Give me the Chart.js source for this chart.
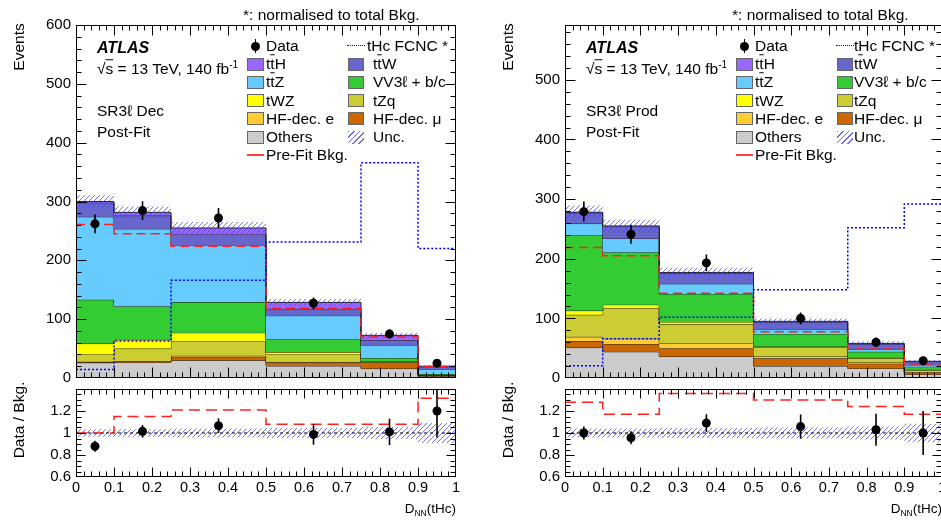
<!DOCTYPE html>
<html>
<head>
<meta charset="utf-8">
<script src="https://cdn.jsdelivr.net/npm/chart.js@4.4.0/dist/chart.umd.min.js"></script>
<style>
html, body { margin: 0; padding: 0; background: #fff; overflow: hidden; width: 941px; height: 522px; }
body { position: relative; font-family: "Liberation Sans", Arial, sans-serif; color: #000; }
canvas { position: absolute; }
.t { position: absolute; white-space: nowrap; font-size: 15.5px; line-height: 1; transform: translateY(-50%); }
.rot { position: absolute; white-space: nowrap; font-size: 15.5px; line-height: 1; transform: translate(-50%, -50%) rotate(-90deg); }
.sw { position: absolute; box-sizing: border-box; border: 1px solid #666; }
.ob { text-decoration: overline; }
sup { font-size: 10px; vertical-align: 6px; line-height: 0; }
sub { font-size: 8.5px; vertical-align: -3px; line-height: 0; }
</style>
</head>
<body>
<canvas id="decTop" width="470" height="392" style="left:0;top:0"></canvas>
<canvas id="decRatio" width="470" height="147" style="left:0;top:375px"></canvas>
<canvas id="prodTop" width="490" height="392" style="left:470px;top:0"></canvas>
<canvas id="prodRatio" width="490" height="147" style="left:470px;top:375px"></canvas>
<script>
// bins of the NN discriminant
const binEdges = [0, 0.1, 0.25, 0.5, 0.75, 0.9, 1];
const binCentres = [0.05, 0.175, 0.375, 0.625, 0.825, 0.95];

// axis labels
const eventTicks = [0, 100, 200, 300, 400, 500, 600];
const ratioTicks = [0.6, 0.8, 1, 1.2];
const xTicks = [0, 0.1, 0.2, 0.3, 0.4, 0.5, 0.6, 0.7, 0.8, 0.9, 1];

// background samples, bottom of the stack first
const sampleLabels = ['Others', 'HF-dec. μ', 'HF-dec. e', 'tZq', 'tWZ', 'VV3ℓ + b/c',
  't<span class="ob">t</span>Z', 't<span class="ob">t</span>W', 't<span class="ob">t</span>H'];
const sampleColours = ['#cccccc', '#cc6600', '#ffcc33', '#cccc33', '#ffff00', '#33cc33', '#66ccff', '#6666cc', '#9966ff'];

// SR3l Dec, post-fit yields
const decOthers = [26, 26.5, 30, 20.5, 16, 3];
const decHfMu = [1, 1.5, 6, 6, 10.5, 2];
const decHfE = [0.5, 0.5, 2, 0.5, 0, 0];
const decTZq = [12.5, 21.5, 25, 13, 1, 0.5];
const decTWZ = [18.5, 15, 14, 4, 0.5, 0];
const decVV = [74.5, 57, 52, 22, 6, 1.5];
const decTTZ = [141, 131.5, 97, 40, 22, 8];
const decTTW = [24, 22.5, 18, 11.5, 8, 3];
const decTTH = [2, 5.5, 11, 11, 8.5, 2];
const decData = [262, 284.5, 272, 127, 75, 25];
const decDataErr = [16, 16, 17, 10, 8, 5];
const decPreFit = [261, 245, 224, 118.5, 69.5, 19.5];
const decSignal = [14.5, 63, 166, 231, 366, 220];
const decRatio = [0.88, 1.015, 1.067, 0.987, 1.01, 1.2];
const decRatioErr = [0.05, 0.057, 0.067, 0.093, 0.12, 0.24];
const decPreFitRatio = [1.0, 1.15, 1.21, 1.08, 1.08, 1.315];
const decUnc = [0.035, 0.035, 0.04, 0.045, 0.055, 0.09];

// SR3l Prod, post-fit yields
const prodOthers = [51, 44, 36, 20, 16, 6];
const prodHfMu = [11, 13, 14, 13, 8, 3];
const prodHfE = [7, 9, 8, 3, 2, 1];
const prodTZq = [37, 51, 32, 16, 7, 3];
const prodTWZ = [7, 6, 4, 1, 1, 1];
const prodVV = [127, 88, 47, 21, 10, 5];
const prodTTZ = [19, 23, 17, 8, 4, 3];
const prodTTW = [18, 20, 18, 12, 9, 5.5];
const prodTTH = [1, 1, 1, 1, 1, 0.5];
const prodData = [279, 241, 193, 100, 60, 29];
const prodDataErr = [17, 16, 14, 10, 8, 5.5];
const prodPreFit = [219, 205, 142, 77.5, 48.5, 23.5];
const prodSignal = [20.5, 66, 102, 148, 252, 292];
const prodRatio = [1.0, 0.957, 1.09, 1.058, 1.03, 1.0];
const prodRatioErr = [0.06, 0.06, 0.08, 0.11, 0.145, 0.2];
const prodPreFitRatio = [1.28, 1.17, 1.36, 1.30, 1.24, 1.17];
const prodUnc = [0.04, 0.04, 0.045, 0.05, 0.06, 0.085];

const ratioRef = 1;
const FONT = '"Liberation Sans", Arial, sans-serif';
Chart.defaults.font.family = FONT;

// blue "/" hatching for the uncertainty band
const hatch = (() => {
  const c = document.createElement('canvas');
  c.width = 5; c.height = 5;
  const g = c.getContext('2d');
  g.strokeStyle = 'rgba(70,70,255,0.85)';
  g.lineWidth = 0.9;
  g.beginPath();
  g.moveTo(0, 5); g.lineTo(5, 0);
  g.moveTo(-1, 1); g.lineTo(1, -1);
  g.moveTo(4, 6); g.lineTo(6, 4);
  g.stroke();
  return g.createPattern(c, 'repeat');
})();

// histogram as step points: value i held from edge i to edge i+1
function steps(vals) {
  const pts = vals.map((v, i) => ({ x: binEdges[i], y: v }));
  pts.push({ x: binEdges[binEdges.length - 1], y: vals[vals.length - 1] });
  return pts;
}
function points(vals) {
  return vals.map((v, i) => ({ x: binCentres[i], y: v }));
}
function fixedTicks(list) {
  return s => { s.ticks = list.filter(v => v >= s.min - 1e-9 && v <= s.max + 1e-9).map(v => ({ value: v })); };
}

// ROOT style frame with inward ticks on all four sides
const frameTicks = {
  id: 'frameTicks',
  afterDraw(chart, args, o) {
    const { ctx, chartArea: a } = chart;
    const xs = chart.scales.x, ys = chart.scales.y;
    const L = Math.round(a.left) + 0.5, R = Math.round(a.right) - 0.5;
    const T = Math.round(a.top) + 0.5, B = Math.round(a.bottom) - 0.5;
    ctx.save();
    ctx.strokeStyle = '#000';
    ctx.lineWidth = 1;
    ctx.strokeRect(L, T, R - L, B - T);
    ctx.beginPath();
    const nx = Math.round((xs.max - xs.min) / o.xMinor);
    for (let i = 1; i < nx; i++) {
      const px = Math.round(xs.getPixelForValue(xs.min + i * o.xMinor)) + 0.5;
      const len = i % o.xEvery === 0 ? o.majLen : o.minLen;
      ctx.moveTo(px, B); ctx.lineTo(px, B - len);
      ctx.moveTo(px, T); ctx.lineTo(px, T + len);
    }
    const ny = Math.floor((ys.max - ys.min) / o.yMinor + 1e-6);
    for (let i = 1; i <= ny; i++) {
      const v = ys.min + i * o.yMinor;
      if (v >= ys.max - 1e-9) continue;
      const py = Math.round(ys.getPixelForValue(v)) + 0.5;
      const len = i % o.yEvery === 0 ? o.majLen : o.minLen;
      ctx.moveTo(L, py); ctx.lineTo(L + len, py);
      ctx.moveTo(R, py); ctx.lineTo(R - len, py);
    }
    ctx.stroke();
    ctx.restore();
  }
};

// vertical error bars for datasets carrying an "errors" array
const errorBars = {
  id: 'errorBars',
  afterDatasetsDraw(chart) {
    const { ctx, chartArea: a } = chart;
    const xs = chart.scales.x, ys = chart.scales.y;
    chart.data.datasets.forEach(ds => {
      if (!ds.errors) return;
      ctx.save();
      ctx.beginPath();
      ctx.rect(a.left, a.top, a.width, a.height);
      ctx.clip();
      ctx.strokeStyle = '#000';
      ctx.lineWidth = 1.6;
      ctx.beginPath();
      ds.data.forEach((p, j) => {
        const x = xs.getPixelForValue(p.x);
        ctx.moveTo(x, ys.getPixelForValue(p.y - ds.errors[j]));
        ctx.lineTo(x, ys.getPixelForValue(p.y + ds.errors[j]));
      });
      ctx.stroke();
      ctx.restore();
    });
  }
};

function drawPanel(p) {
  // running sums for the stacked backgrounds
  const stack = [];
  let run = p.layers[0].map(() => 0);
  p.layers.forEach(l => { run = run.map((v, i) => v + l[i]); stack.push(run); });
  const total = stack[stack.length - 1];

  const sets = stack.map((vals, i) => ({
    data: steps(vals),
    stepped: true,
    fill: i === 0 ? 'origin' : '-1',
    backgroundColor: sampleColours[i],
    borderColor: '#222',
    borderWidth: 1,
    pointRadius: 0,
    order: 40 - i
  }));
  sets.push({
    data: steps(total.map((v, i) => v * (1 - p.unc[i]))),
    stepped: true, fill: false, borderWidth: 0, pointRadius: 0, order: 10
  });
  sets.push({
    data: steps(total.map((v, i) => v * (1 + p.unc[i]))),
    stepped: true, fill: '-1', backgroundColor: hatch, borderWidth: 0, pointRadius: 0, order: 9
  });
  sets.push({
    data: steps(p.preFit), stepped: true, fill: false,
    borderColor: '#ff2020', borderWidth: 1.5, borderDash: [9, 5], pointRadius: 0, order: 3
  });
  sets.push({
    data: steps(p.signal), stepped: true, fill: false,
    borderColor: '#0000ff', borderWidth: 1.5, borderDash: [2, 2], pointRadius: 0, order: 2
  });
  sets.push({
    data: points(p.data), errors: p.dataErr, showLine: false,
    pointRadius: 4.5, pointBackgroundColor: '#000', pointBorderWidth: 0, order: 1
  });

  new Chart(document.getElementById(p.topId), {
    type: 'line',
    data: { datasets: sets },
    plugins: [frameTicks, errorBars],
    options: {
      responsive: false,
      animation: false,
      layout: { padding: { top: 25, right: p.padRight, bottom: 9, left: 0 } },
      plugins: {
        legend: { display: false },
        tooltip: { enabled: false },
        frameTicks: { xMinor: 0.02, xEvery: 5, yMinor: 20, yEvery: 5, majLen: 10, minLen: 5 }
      },
      scales: {
        x: { type: 'linear', min: 0, max: 1, display: false },
        y: {
          min: 0, max: p.yMax,
          afterBuildTicks: fixedTicks(eventTicks),
          afterFit: s => { s.width = p.axisW; },
          grid: { display: false, drawTicks: false },
          border: { display: false },
          ticks: { padding: 5, color: '#000', font: { family: FONT, size: 15 }, callback: v => String(v) }
        }
      }
    }
  });

  new Chart(document.getElementById(p.ratioId), {
    type: 'line',
    data: {
      datasets: [
        { data: steps(p.unc.map(u => ratioRef - u)), stepped: true, fill: false, borderWidth: 0, pointRadius: 0, order: 10 },
        { data: steps(p.unc.map(u => ratioRef + u)), stepped: true, fill: '-1', backgroundColor: hatch, borderWidth: 0, pointRadius: 0, order: 9 },
        {
          data: [{ x: binEdges[0], y: ratioRef }, { x: binEdges[binEdges.length - 1], y: ratioRef }],
          borderColor: '#000', borderWidth: 1, borderDash: [3, 3], pointRadius: 0, fill: false, order: 5
        },
        {
          data: steps(p.preFitRatio), stepped: true, fill: false,
          borderColor: '#ff2020', borderWidth: 1.5, borderDash: [11, 6], pointRadius: 0, order: 3
        },
        {
          data: points(p.ratio), errors: p.ratioErr, showLine: false,
          pointRadius: 4.5, pointBackgroundColor: '#000', pointBorderWidth: 0, order: 1
        }
      ]
    },
    plugins: [frameTicks, errorBars],
    options: {
      responsive: false,
      animation: false,
      layout: { padding: { top: 8, right: p.padRight, bottom: 0, left: 0 } },
      plugins: {
        legend: { display: false },
        tooltip: { enabled: false },
        frameTicks: { xMinor: 0.02, xEvery: 5, yMinor: 0.05, yEvery: 4, majLen: 9, minLen: 5 }
      },
      scales: {
        x: {
          type: 'linear', min: 0, max: 1,
          afterBuildTicks: fixedTicks(xTicks),
          afterFit: s => { s.height = 45; },
          grid: { display: false, drawTicks: false },
          border: { display: false },
          ticks: { padding: 2, color: '#000', font: { family: FONT, size: 14.5 }, maxRotation: 0, autoSkip: false, callback: v => String(+v.toFixed(1)) }
        },
        y: {
          min: 0.6, max: 1.4,
          afterBuildTicks: fixedTicks(ratioTicks),
          afterFit: s => { s.width = p.axisW; },
          grid: { display: false, drawTicks: false },
          border: { display: false },
          ticks: { padding: 5, color: '#000', font: { family: FONT, size: 15 }, callback: v => String(+v.toFixed(1)) }
        }
      }
    }
  });
}

// HTML text and legend around each frame
function addText(html, x, y, cls, extra) {
  const d = document.createElement('div');
  d.className = cls || 't';
  d.innerHTML = html;
  d.style.left = x + 'px';
  d.style.top = y + 'px';
  if (extra) Object.assign(d.style, extra);
  document.body.appendChild(d);
  return d;
}
function addBox(x, y, w, h, style) {
  const d = document.createElement('div');
  d.className = 'sw';
  Object.assign(d.style, { left: x + 'px', top: y + 'px', width: w + 'px', height: h + 'px' }, style);
  document.body.appendChild(d);
}

function decorate(fl, fr, axisX, region, col2Text, fcncText) {
  addText('*: normalised to total Bkg.', fl + 167, 15);
  addText('ATLAS', fl + 21, 48, 't', { fontWeight: 'bold', fontStyle: 'italic', fontSize: '16px' });
  addText('√<span class="ob">s</span> = 13 TeV, 140 fb<sup>-1</sup>', fl + 21, 69);
  addText(region, fl + 21, 111);
  addText('Post-Fit', fl + 21, 132);
  addText('Events', axisX, 46.5, 'rot');
  addText('Data / Bkg.', axisX, 420, 'rot');
  addText('D<sub>NN</sub>(tHc)', fr, 509, 't', { fontSize: '13.5px', transform: 'translate(-100%, -50%)' });

  const row = i => 46 + 18.2 * i;
  // first column
  addBox(fl + 175, row(0) - 4.5, 9, 9, { border: 'none', background: '#000', borderRadius: '50%' });
  addBox(fl + 178.8, row(0) - 7, 1.5, 14, { border: 'none', background: '#000' });
  addText('Data', fl + 190, row(0));
  [8, 6, 4, 2, 0].forEach((k, i) => {
    addBox(fl + 171, row(i + 1) - 6.5, 17, 13, { background: sampleColours[k] });
    addText(sampleLabels[k], fl + 190, row(i + 1));
  });
  addBox(fl + 171, row(6) - 1, 17, 2, { border: 'none', background: '#ff4040' });
  addText('Pre-Fit Bkg.', fl + 190, row(6));
  // second column
  addBox(fl + 271, row(0) - 1, 18, 0, { border: 'none', borderTop: '1.5px dotted #0000ff' });
  addText('tHc FCNC *', fl + fcncText, row(0));
  [7, 5, 3, 1].forEach((k, i) => {
    addBox(fl + 272, row(i + 1) - 6.5, 16, 13, { background: sampleColours[k] });
    addText(sampleLabels[k], fl + col2Text, row(i + 1));
  });
  addBox(fl + 272, row(5) - 6.5, 16, 13, {
    border: 'none',
    background: 'repeating-linear-gradient(135deg, rgba(90,90,255,0.9) 0 1px, transparent 1px 4px)'
  });
  addText('Unc.', fl + col2Text, row(5));
}

drawPanel({
  topId: 'decTop', ratioId: 'decRatio',
  layers: [decOthers, decHfMu, decHfE, decTZq, decTWZ, decVV, decTTZ, decTTW, decTTH],
  data: decData, dataErr: decDataErr, preFit: decPreFit, signal: decSignal,
  ratio: decRatio, ratioErr: decRatioErr, preFitRatio: decPreFitRatio, unc: decUnc,
  yMax: 600, axisW: 76, padRight: 14
});
drawPanel({
  topId: 'prodTop', ratioId: 'prodRatio',
  layers: [prodOthers, prodHfMu, prodHfE, prodTZq, prodTWZ, prodVV, prodTTZ, prodTTW, prodTTH],
  data: prodData, dataErr: prodDataErr, preFit: prodPreFit, signal: prodSignal,
  ratio: prodRatio, ratioErr: prodRatioErr, preFitRatio: prodPreFitRatio, unc: prodUnc,
  yMax: 592, axisW: 95, padRight: 18
});

decorate(76, 456, 19, 'SR3ℓ Dec', 297, 291);
decorate(565, 942, 508, 'SR3ℓ Prod', 289, 289);
</script>
</body>
</html>
